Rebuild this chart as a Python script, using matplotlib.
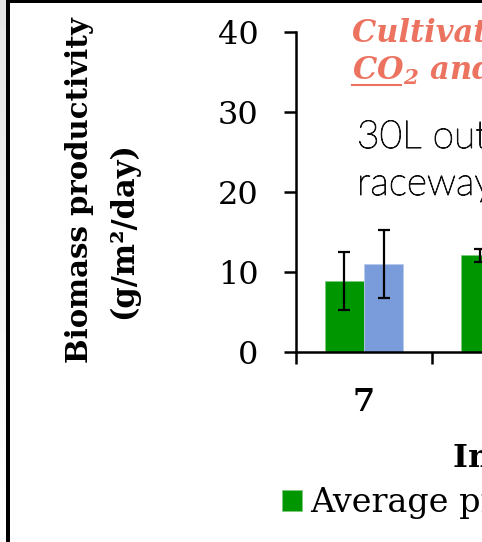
"""
Biomass productivity bar chart (cropped slide panel).
"""
import numpy as np
import matplotlib
matplotlib.use('Agg')
import matplotlib.pyplot as plt
import matplotlib.patheffects as pe
from matplotlib.patches import Rectangle
from matplotlib.lines import Line2D

# data
categories = ['7', '14']
avg_prod = [8.9, 12.1]
avg_err = [3.6, 0.8]
max_prod = [11.0, np.nan]
max_err = [4.3, np.nan]
legend_labels = ['Average productivity', 'Maximum productivity']

W, H = 482, 542


def fx(x):
    return x / W


def fy(y):
    return 1 - y / H


serif = 'DejaVu Serif'
green = '#009600'
blue = '#7b9cda'
salmon = '#ec7360'

plt.rcParams['mathtext.fontset'] = 'custom'
plt.rcParams['mathtext.rm'] = 'DejaVu Serif:bold:italic'
plt.rcParams['mathtext.it'] = 'DejaVu Serif:bold:italic'

fig = plt.figure(figsize=(W / 100, H / 100), dpi=100)

# slide background strip and panel frame
grad = np.linspace(0.89, 1.0, 100).reshape(-1, 1)
bg = fig.add_axes([0, 0, fx(6), 1])
bg.imshow(grad, cmap='gray', vmin=0, vmax=1, aspect='auto')
bg.axis('off')
fig.add_artist(Rectangle((fx(6), 0), fx(4), 1, transform=fig.transFigure,
                         facecolor='black', edgecolor='none'))
fig.add_artist(Rectangle((fx(6), fy(3)), 1, 3 / H, transform=fig.transFigure,
                         facecolor='black', edgecolor='none'))

# main axes, wider than the crop so the rest runs off the right side
n_cat = 5
unit = 136
ax = fig.add_axes([fx(296), fy(352), fx(n_cat * unit), (352 - 32) / H])
x = np.arange(len(categories)) + 0.5
bw = 0.287

ax.bar(x - bw / 2, avg_prod, bw, color=green, edgecolor='#7fc97f', linewidth=0.5,
       label=legend_labels[0], zorder=2)
ax.bar(x + bw / 2, max_prod, bw, color=blue, edgecolor='#b9cbee', linewidth=0.5,
       label=legend_labels[1], zorder=2)
ax.errorbar(x - bw / 2, avg_prod, yerr=avg_err, fmt='none', ecolor='black',
            elinewidth=1.6, capsize=4.5, capthick=1.6, zorder=3)
ax.errorbar(x + bw / 2, max_prod, yerr=max_err, fmt='none', ecolor='black',
            elinewidth=1.6, capsize=4.5, capthick=1.6, zorder=3)

ax.set_xlim(0, n_cat)
ax.set_ylim(0, 40)
for s in ['top', 'right']:
    ax.spines[s].set_visible(False)
for s in ['left', 'bottom']:
    ax.spines[s].set_linewidth(1.8)

ax.set_yticks([0, 10, 20, 30, 40])
ax.tick_params(axis='y', direction='out', length=9, width=1.8, pad=18,
               labelsize=23)
ax.set_xticks(np.arange(n_cat + 1))
ax.set_xticklabels([])
ax.tick_params(axis='x', which='major', direction='out', length=8.5, width=1.8)
ax.set_xticks(x, minor=True)
ax.set_xticklabels(categories, minor=True)
ax.tick_params(axis='x', which='minor', length=0, pad=25, labelsize=23)
for lab in ax.get_yticklabels():
    lab.set_family(serif)
for lab in ax.get_xticklabels(minor=True):
    lab.set_family(serif)
    lab.set_fontweight('bold')

# y axis label (two lines)
fig.text(fx(80), fy(190), 'Biomass productivity', rotation=90, ha='center',
         va='center', family=serif, fontweight='bold', fontsize=21)
fig.text(fx(124), fy(231), '(g/m\u00b2/day)', rotation=90, ha='center',
         va='center', family=serif, fontweight='bold', fontsize=22)

# x axis label, cut by the crop
fig.text(fx(453), fy(467), 'Inoculum density (g/L)', ha='left', va='baseline',
         family=serif, fontweight='bold', fontsize=23)

# annotation texts
fig.text(fx(352), fy(42), 'Cultivation with flue gas', ha='left', va='baseline',
         family=serif, fontweight='bold', style='italic', fontsize=22, color=salmon)
fig.text(fx(352), fy(80), r'$\mathrm{CO_2}$ and nutrients', ha='left', va='baseline',
         family=serif, fontweight='bold', style='italic', fontsize=22, color=salmon)
fig.add_artist(Line2D([fx(352), fx(401)], [fy(85), fy(85)], color=salmon,
                      linewidth=1.5, transform=fig.transFigure))
thicken = [pe.withStroke(linewidth=0.7, foreground='#111111')]
fig.text(fx(357), fy(148), '30L outdoor', ha='left', va='baseline',
         family='Lato', fontweight='light', fontsize=28, color='#111111',
         path_effects=thicken)
fig.text(fx(357), fy(195), 'raceway ponds', ha='left', va='baseline',
         family='Lato', fontweight='light', fontsize=28, color='#111111',
         path_effects=thicken)

# legend below the axis
ax.legend(loc='center left', bbox_to_anchor=(fx(269), fy(503)),
          bbox_transform=fig.transFigure, ncol=2, frameon=False,
          prop={'family': serif, 'size': 24}, handlelength=0.6,
          handleheight=0.6, handletextpad=0.22, borderaxespad=0)

fig.savefig('out.png', dpi=100)
